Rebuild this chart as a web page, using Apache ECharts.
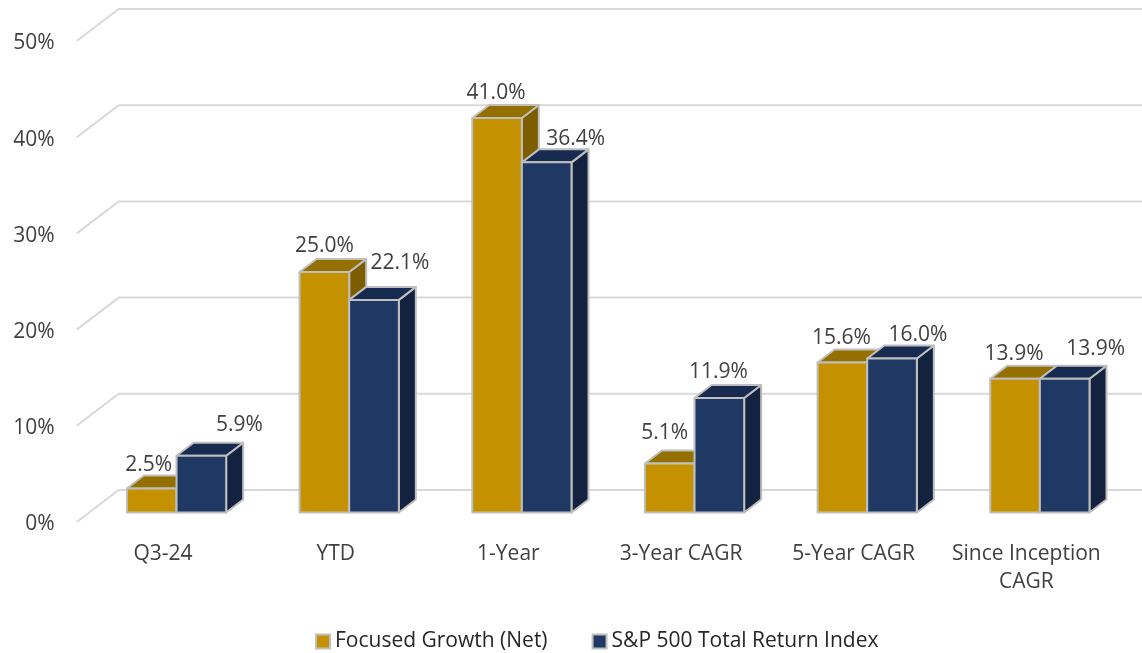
<!DOCTYPE html>
<html>
<head>
<meta charset="utf-8">
<title>Focused Growth</title>
<style>
    html, body { margin: 0; padding: 0; background: #fff; }
    #main { width: 1142px; height: 653px; }
</style>
<script src="https://cdn.jsdelivr.net/npm/echarts@6/dist/echarts.min.js"></script>
</head>
<body>
<div id="main"></div>
<script>
var categories = ['Q3-24', 'YTD', '1-Year', '3-Year CAGR', '5-Year CAGR', 'Since Inception\nCAGR'];
var focusedGrowth = [2.5, 25.0, 41.0, 5.1, 15.6, 13.9];
var sp500 = [5.9, 22.1, 36.4, 11.9, 16.0, 13.9];
var yTicks = [0, 10, 20, 30, 40, 50];

// hand placed data labels in the original, dx/dy from the top centre of the bar
var goldLabelShift = [[-3, -23], [0, -26], [-1, -25], [-5, -30], [-1, -24], [-1, -25]];
var blueLabelShift = [[38, -31], [26, -37], [29, -23], [-1, -26], [26, -24], [31, -30]];

var FONT = '"Open Sans", sans-serif';
var depthX = 17, depthY = 13;   // bar depth
var wallX = 42, wallY = 32;     // floor depth
var barDown = 9.5;              // bars stand a little behind the front edge
var barRatio = 0.2875;          // bar width / category width
var barShift = 13.5;            // bars sit right of the category centre

var renderWall = function(params, api) {
    var pos = api.coord([0, api.value(0)]);
    var cs = params.coordSys;
    var style = { stroke: '#d9d9d9', lineWidth: 2, fill: 'none' };
    return {
        type: 'polyline',
        shape: { points: [[cs.x, pos[1]], [cs.x + wallX, pos[1] - wallY], [api.getWidth(), pos[1] - wallY]] },
        style: style,
        silent: true
    };
};

var makeRender = function(colors, shifts, side) {
    return function(params, api) {
        var idx = api.value(0);
        var val = api.value(1);
        var top = api.coord([idx, val]);
        var base = api.coord([idx, 0]);
        var w = api.size([1, 0])[0] * barRatio;
        var x0 = top[0] + barShift + (side === 0 ? -w : 0);
        var x1 = x0 + w;
        var y0 = top[1] - barDown;
        var y1 = base[1] - barDown;
        var edge = { stroke: '#bfbfbf', lineWidth: 2, lineJoin: 'round' };
        var shift = shifts[params.dataIndex];
        return {
            type: 'group',
            children: [
                {
                    type: 'polygon',
                    shape: { points: [[x1, y0], [x1 + depthX, y0 - depthY], [x1 + depthX, y1 - depthY], [x1, y1]] },
                    style: Object.assign({ fill: colors.side }, edge)
                },
                {
                    type: 'polygon',
                    shape: { points: [[x0, y0], [x0 + depthX, y0 - depthY], [x1 + depthX, y0 - depthY], [x1, y0]] },
                    style: Object.assign({ fill: colors.top }, edge)
                },
                {
                    type: 'rect',
                    shape: { x: x0, y: y0, width: w, height: y1 - y0 },
                    style: Object.assign({ fill: colors.front }, edge)
                },
                {
                    type: 'text',
                    z2: 50,
                    style: {
                        x: (x0 + x1) / 2 + shift[0],
                        y: y0 + shift[1],
                        text: val.toFixed(1) + '%',
                        fill: '#404040',
                        font: '21px ' + FONT,
                        align: 'center',
                        verticalAlign: 'middle'
                    }
                }
            ]
        };
    };
};

var toPairs = function(arr) {
    return arr.map(function(v, i) { return [i, v]; });
};

var gold = { front: '#c49200', top: '#937000', side: '#7c5e00' };
var blue = { front: '#1f3864', top: '#172a4f', side: '#13233f' };

var chart = echarts.init(document.getElementById('main'));
chart.setOption({
    animation: false,
    backgroundColor: '#fff',
    grid: { left: 76.7, right: 29.3, top: 41, bottom: 131 },
    legend: {
        left: 310,
        top: 626,
        itemWidth: 14,
        itemHeight: 14,
        itemGap: 44,
        textStyle: { color: '#262626', fontSize: 21, fontFamily: FONT },
        data: [
            { name: 'Focused Growth (Net)', icon: 'rect', itemStyle: { color: gold.front, borderColor: '#bfbfbf', borderWidth: 2 } },
            { name: 'S&P 500 Total Return Index', icon: 'rect', itemStyle: { color: blue.front, borderColor: '#bfbfbf', borderWidth: 2 } }
        ]
    },
    xAxis: {
        type: 'category',
        data: categories,
        axisLine: { show: false },
        axisTick: { show: false },
        axisLabel: {
            color: '#404040',
            fontSize: 21,
            fontFamily: FONT,
            lineHeight: 28,
            margin: 18,
            interval: 0
        }
    },
    yAxis: {
        type: 'value',
        min: 0,
        max: 50,
        interval: 10,
        splitLine: { show: false },
        axisLine: { show: false },
        axisTick: { show: false },
        axisLabel: {
            margin: 22,
            formatter: '{v|{value}%}',
            rich: {
                v: { color: '#404040', fontSize: 21, fontFamily: FONT, padding: [5, 0, 0, 0] }
            }
        }
    },
    series: [
        {
            name: 'wall',
            type: 'custom',
            renderItem: renderWall,
            data: yTicks.map(function(v) { return [v]; }),
            encode: { y: 0 },
            clip: false,
            silent: true,
            z: 1
        },
        {
            name: 'Focused Growth (Net)',
            type: 'custom',
            renderItem: makeRender(gold, goldLabelShift, 0),
            itemStyle: { color: gold.front },
            data: toPairs(focusedGrowth),
            encode: { x: 0, y: 1 },
            clip: false,
            z: 2
        },
        {
            name: 'S&P 500 Total Return Index',
            type: 'custom',
            renderItem: makeRender(blue, blueLabelShift, 1),
            itemStyle: { color: blue.front },
            data: toPairs(sp500),
            encode: { x: 0, y: 1 },
            clip: false,
            z: 3
        }
    ]
});
</script>
</body>
</html>
